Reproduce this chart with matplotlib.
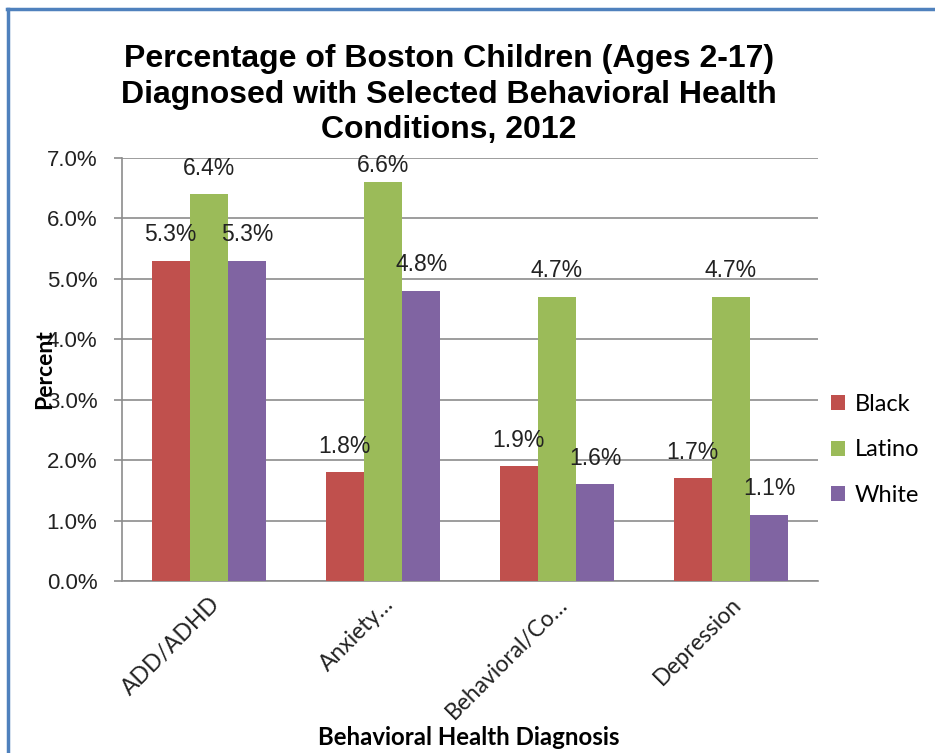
import matplotlib
matplotlib.use("Agg")
import matplotlib.pyplot as plt
import numpy as np
from matplotlib.lines import Line2D
from matplotlib.ticker import FuncFormatter, MultipleLocator

categories = ["ADD/ADHD", "Anxiety…", "Behavioral/Co…", "Depression"]
series_names = ["Black", "Latino", "White"]
black = [5.3, 1.8, 1.9, 1.7]
latino = [6.4, 6.6, 4.7, 4.7]
white = [5.3, 4.8, 1.6, 1.1]
colors = ["#C0504D", "#9BBB59", "#8064A2"]

title = "Percentage of Boston Children (Ages 2-17)\nDiagnosed with Selected Behavioral Health\nConditions, 2012"

fig = plt.figure(figsize=(9.35, 7.53), dpi=100)
ax = fig.add_axes([0.1305, 0.2284, 0.7444, 0.5618])

y_max = 7.0
label_gap = 0.43      # data units between bar top and label centre
label_cap = 6.87      # keep labels inside the plot area

x = np.arange(len(categories))
width = 0.22
values = [black, latino, white]
for i, (name, vals, col) in enumerate(zip(series_names, values, colors)):
    pos = x + (i - 1) * width
    ax.bar(pos, vals, width=width, color=col, label=name, zorder=3)
    for xi, v in zip(pos, vals):
        ax.text(xi, min(v + label_gap, label_cap), f"{v:.1f}%",
                ha="center", va="center", fontsize=16.5,
                family="Liberation Sans", color="#222222", zorder=4)

ax.set_xlim(-0.5, len(categories) - 0.5)
ax.set_ylim(0, y_max)
ax.yaxis.set_major_locator(MultipleLocator(1))
ax.yaxis.set_major_formatter(FuncFormatter(lambda v, p: f"{v:.1f}%"))
ax.grid(axis="y", color="#8C8C8C", linewidth=1.2, zorder=0)
for s in ["top", "right"]:
    ax.spines[s].set_visible(False)
for s in ["left", "bottom"]:
    ax.spines[s].set_color("#8C8C8C")
    ax.spines[s].set_linewidth(1.2)
ax.tick_params(axis="y", length=5.8, color="#8C8C8C", width=1.2, pad=12,
               labelsize=16, labelcolor="#222222")
for t in ax.get_yticklabels():
    t.set_family("Liberation Sans")
ax.set_xticks(x)
ax.set_xticklabels(categories, rotation=45, ha="right", rotation_mode="anchor",
                   fontsize=16.5, family="Lato", color="#222222")
ax.tick_params(axis="x", length=0, pad=9)

ax.set_ylabel("Percent", fontsize=16.5, family="Lato", fontweight="bold")
ax.yaxis.label.set_va("center")
ax.yaxis.set_label_coords(-0.1106, 0.5)
ax.set_xlabel("Behavioral Health Diagnosis", fontsize=17.3, family="Lato",
              fontweight="bold")
ax.xaxis.label.set_va("center")
ax.xaxis.set_label_coords(0.4986, -0.369)

fig.text(0.480, 0.874, title, ha="center", va="center", fontsize=23,
         fontweight="bold", family="Liberation Sans", linespacing=1.24)

ax.legend(loc="center left", bbox_to_anchor=(1.0187, 0.31), frameon=False,
          prop={"family": "Lato", "size": 17}, handlelength=0.6,
          handleheight=0.6, handletextpad=0.4, labelspacing=1.03,
          borderaxespad=0, borderpad=0)

# chart frame
fig.add_artist(Line2D([0.0075, 1.0], [1 - 9 / 753, 1 - 9 / 753], color="#4F81BD",
                      linewidth=2.5, transform=fig.transFigure))
fig.add_artist(Line2D([7.5 / 935, 7.5 / 935], [0, 1 - 9 / 753], color="#4F81BD",
                      linewidth=2.5, transform=fig.transFigure))

fig.savefig("out.png", dpi=100)
